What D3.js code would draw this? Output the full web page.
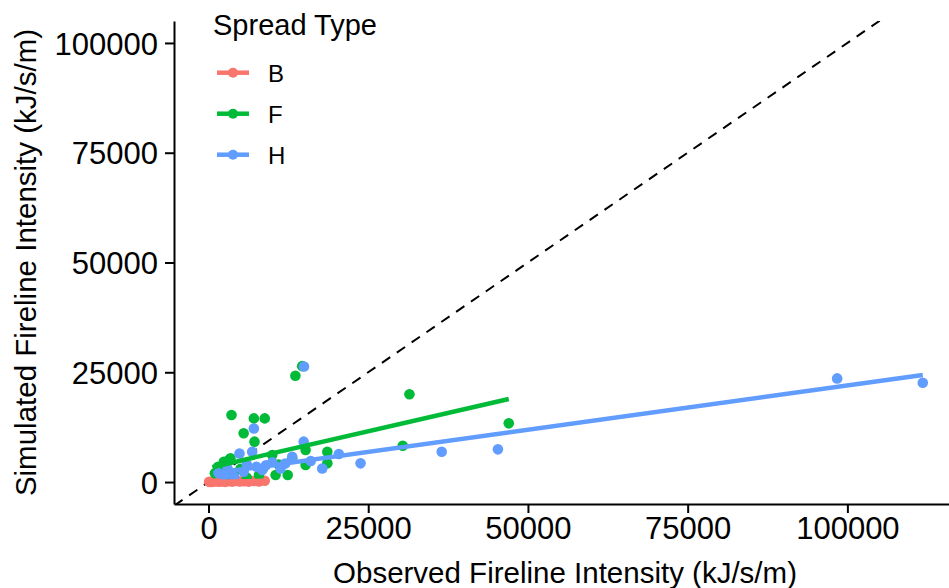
<!DOCTYPE html>
<html>
<head>
<meta charset="utf-8">
<script src="https://cdn.jsdelivr.net/npm/d3@7"></script>
<style>
  body { margin: 0; background: #fff; }
  text { font-family: "Liberation Sans", Arial, sans-serif; fill: #000; }
</style>
</head>
<body>
<script>
// observed / simulated fireline intensity (kJ/s/m)
var typesB = [[100, 50], [400, 0], [800, 100], [1200, 200], [1600, 80], [2100, 150], [2600, 50],
  [3100, 200], [3700, 100], [4300, 250], [4900, 150], [5600, 200], [6300, 100], [7100, 250],
  [7900, 150], [8800, 300]];
var typesF = [[14660, 26400], [13600, 24200], [31450, 19980], [3600, 15260], [7100, 14500],
  [8800, 14500], [5500, 11100], [7200, 9200], [47000, 13370], [30400, 8270], [18600, 6900],
  [15200, 7300], [18600, 4260], [15200, 3900], [12400, 1600], [10500, 1600], [9970, 6150],
  [13100, 5400], [3440, 5400], [2400, 4600], [3180, 5000], [4000, 2000], [7900, 1600],
  [1500, 3500], [2000, 2500], [5000, 3000], [6000, 1000], [3000, 800], [8500, 3000],
  [11000, 4000], [1000, 2000]];
var typesH = [[14950, 26300], [7100, 12200], [14900, 9200], [4850, 6500], [6840, 6900],
  [20400, 6400], [23800, 4260], [17800, 3100], [98400, 23600], [111800, 22600], [36500, 6900],
  [45300, 7450], [13100, 5770], [11270, 3100], [8400, 2730], [1600, 2000], [5500, 2350],
  [10000, 4500], [12000, 4200], [16000, 4800], [9000, 3800], [3000, 3000], [6000, 4000],
  [4000, 1200], [2500, 1500], [7500, 3500]];
// linear fit end points per spread type [x0, y0, x1, y1]
var fitB = [100, 0, 8800, 300];
var fitF = [600, 3400, 47000, 18900];
var fitH = [800, 2000, 111800, 24400];
var categories = ['B', 'F', 'H'];
var colours = ['#F8766D', '#00BA38', '#619CFF'];
var tickVals = [0, 25000, 50000, 75000, 100000];

var w = 949, h = 588;
var padL = 174, padR = 956, padT = 21, padB = 504;

var svg = d3.select('body').append('svg')
  .attr('width', w)
  .attr('height', h);

var x = d3.scaleLinear().domain([-5400, 117000]).range([padL, padR]);
var y = d3.scaleLinear().domain([-5000, 105000]).range([padB, padT]);
var colour = d3.scaleOrdinal().domain(categories).range(colours);

svg.append('clipPath').attr('id', 'panel')
  .append('rect')
  .attr('x', padL).attr('y', padT)
  .attr('width', padR - padL).attr('height', padB - padT);

var plot = svg.append('g').attr('clip-path', 'url(#panel)');

// 1:1 line
plot.append('line')
  .attr('x1', x(-10000)).attr('y1', y(-10000))
  .attr('x2', x(120000)).attr('y2', y(120000))
  .attr('stroke', '#000')
  .attr('stroke-width', 2)
  .attr('stroke-dasharray', '10,8');

var groups = [
  {key: 'B', pts: typesB, fit: fitB},
  {key: 'F', pts: typesF, fit: fitF},
  {key: 'H', pts: typesH, fit: fitH}
];

groups.forEach(function(g) {
  plot.append('g').selectAll('circle')
    .data(g.pts)
    .enter().append('circle')
    .attr('cx', function(d) { return x(d[0]); })
    .attr('cy', function(d) { return y(d[1]); })
    .attr('r', 5.3)
    .attr('fill', colour(g.key));
});
groups.forEach(function(g) {
  plot.append('line')
    .attr('x1', x(g.fit[0])).attr('y1', y(g.fit[1]))
    .attr('x2', x(g.fit[2])).attr('y2', y(g.fit[3]))
    .attr('stroke', colour(g.key))
    .attr('stroke-width', 4.5)
    .attr('stroke-linecap', 'butt');
});

// axes
var xAxis = svg.append('g')
  .attr('transform', 'translate(0,' + padB + ')')
  .call(d3.axisBottom(x).tickValues(tickVals).tickFormat(d3.format('d'))
    .tickSize(9).tickSizeOuter(0).tickPadding(4));
var yAxis = svg.append('g')
  .attr('transform', 'translate(' + padL + ',0)')
  .call(d3.axisLeft(y).tickValues(tickVals).tickFormat(d3.format('d'))
    .tickSize(9).tickSizeOuter(0).tickPadding(7));

[xAxis, yAxis].forEach(function(a) {
  a.select('.domain').attr('stroke', '#000').attr('stroke-width', 2);
  a.selectAll('.tick line').attr('stroke', '#000').attr('stroke-width', 2);
  a.selectAll('.tick text')
    .attr('fill', '#000')
    .style('font-size', '31px')
    .style('font-family', '"Liberation Sans", Arial, sans-serif');
});
xAxis.selectAll('.tick text').attr('dy', '0.71em');
yAxis.selectAll('.tick text').attr('dy', '0.36em');

svg.append('text')
  .attr('x', (padL + padR) / 2)
  .attr('y', 583)
  .attr('text-anchor', 'middle')
  .style('font-size', '29.5px')
  .text('Observed Fireline Intensity (kJ/s/m)');

svg.append('text')
  .attr('transform', 'translate(36,' + ((padT + padB) / 2) + ') rotate(-90)')
  .attr('text-anchor', 'middle')
  .style('font-size', '29.5px')
  .text('Simulated Fireline Intensity (kJ/s/m)');

// legend
var legend = svg.append('g');
legend.append('text')
  .attr('x', 213).attr('y', 35)
  .style('font-size', '29px')
  .text('Spread Type');
var item = legend.selectAll('.item')
  .data(categories)
  .enter().append('g')
  .attr('class', 'item')
  .attr('transform', function(d, i) { return 'translate(0,' + (72.7 + i * 41) + ')'; });
item.append('line')
  .attr('x1', 217).attr('x2', 249)
  .attr('stroke', function(d) { return colour(d); })
  .attr('stroke-width', 4.5);
item.append('circle')
  .attr('cx', 233).attr('r', 5)
  .attr('fill', function(d) { return colour(d); });
item.append('text')
  .attr('x', 268).attr('y', 9)
  .style('font-size', '24px')
  .text(function(d) { return d; });
</script>
</body>
</html>
